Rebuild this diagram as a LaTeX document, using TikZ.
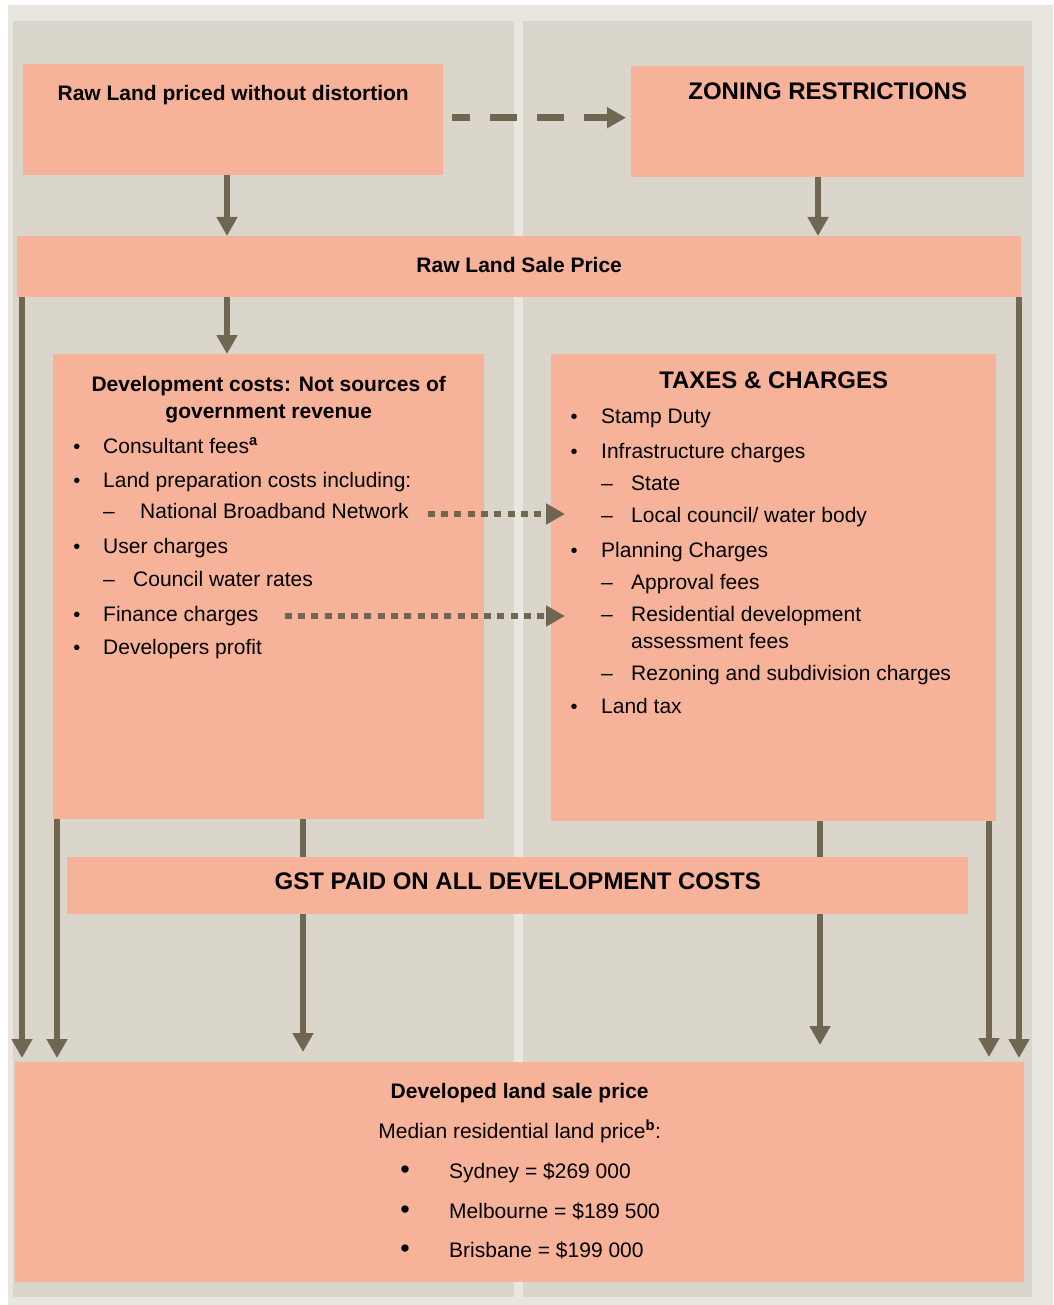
\documentclass[tikz,border=0pt]{standalone}
\usepackage{fontspec}
\setmainfont{Liberation Sans}
\usetikzlibrary{arrows.meta,calc}
\definecolor{framegray}{HTML}{E9E6DF}
\definecolor{panelgray}{HTML}{DAD6CB}
\definecolor{salmon}{HTML}{F7B29A}
\definecolor{olive}{HTML}{6F6751}

\begin{document}
\begin{tikzpicture}[x=1pt,y=-1pt,>={Triangle[width=20pt,length=19pt]},
box/.style={fill=salmon,inner sep=0pt,anchor=north west},flow/.style={->,draw=olive,line width=6.5pt},dashflow/.style={flow,dash pattern=on 27pt off 20pt,dash phase=9pt},dotflow/.style={->,draw=olive,line width=6pt,dash pattern=on 7pt off 6.3pt},head/.style={anchor=base,font=\fontsize{21}{25}\selectfont\bfseries},bighead/.style={anchor=base,font=\fontsize{24}{29}\selectfont\bfseries},item/.style={anchor=base west,inner sep=0pt,font=\fontsize{21}{25}\selectfont},dot/.style={anchor=base,inner sep=0pt,font=\fontsize{20}{24}\selectfont},bigdot/.style={anchor=base,inner sep=0pt,font=\fontsize{27}{30}\selectfont}]
\useasboundingbox (0,0) rectangle (1053,1305);
% frame and the two panels
\fill[white] (0,0) rectangle (1053,1305);
\fill[framegray] (8,5) rectangle (1053,1305);
\fill[panelgray] (13,21) rectangle (514,1297);
\fill[panelgray] (523,21) rectangle (1032,1297);
% boxes
\node[box,minimum width=420pt,minimum height=111pt] (rawland) at (23,64) {};
\node[box,minimum width=393pt,minimum height=111pt] (zoning) at (631,66) {};
\node[box,minimum width=1004pt,minimum height=61pt] (saleprice) at (17,236) {};
\node[box,minimum width=431pt,minimum height=465pt] (devcost) at (53,354) {};
\node[box,minimum width=445pt,minimum height=467pt] (taxes) at (551,354) {};
\node[box,minimum width=1009pt,minimum height=220pt] (developed) at (15,1062) {};
% headings
\node[head] (rawland-t) at ($(rawland.north)+(0,37)$) {Raw Land priced without distortion};
\node[bighead] (zoning-t) at ($(zoning.north)+(0,34)$) {ZONING RESTRICTIONS};
\node[head] (saleprice-t) at ($(saleprice.north)+(0,37)$) {Raw Land Sale Price};
\node[head] (devcost-t1) at ($(devcost.north)+(0,37)$) {Development costs: Not sources of};
\node[head] (devcost-t2) at ($(devcost.north)+(0,64)$) {government revenue};
\node[bighead] (taxes-t) at ($(taxes.north)+(0,34)$) {TAXES \& CHARGES};
\node[head] (developed-t) at ($(developed.north)+(0,36)$) {Developed land sale price};
\node[item,anchor=base] (median) at ($(developed.north)+(0,76)$) {Median residential land price\textsuperscript{\bfseries b}:};
% development costs list
\foreach \n/\y/\t in {consult/453/{Consultant fees\textsuperscript{\bfseries a}},landprep/487/{Land preparation costs including:},user/553/{User charges},finance/621/{Finance charges},profit/654/{Developers profit}}{
\node[dot] (\n-b) at (77,\y) {•};
\node[item] (\n) at (103,\y) {\t};}
\foreach \n/\x/\y/\t in {nbn/140/518/{National Broadband Network},water/133/586/{Council water rates}}{
\node[item] (\n-d) at (103,\y) {–};
\node[item] (\n) at (\x,\y) {\t};}
% taxes list
\foreach \n/\y/\t in {stamp/423/{Stamp Duty},infra/458/{Infrastructure charges},planning/557/{Planning Charges},landtax/713/{Land tax}}{
\node[dot] (\n-b) at (574,\y) {•};
\node[item] (\n) at (601,\y) {\t};}
\foreach \n/\y/\t in {state/490/{State},local/522/{Local council/ water body},approval/589/{Approval fees},resid/621/{Residential development},rezoning/680/{Rezoning and subdivision charges}}{
\node[item] (\n-d) at (601,\y) {–};
\node[item] (\n) at (631,\y) {\t};}
\node[item] (resid2) at (631,648) {assessment fees};
% median prices
\foreach \n/\y/\t in {sydney/1178/{Sydney = \$269 000},melbourne/1218/{Melbourne = \$189 500},brisbane/1257/{Brisbane = \$199 000}}{
\node[bigdot] (\n-b) at (405,\y) {•};
\node[item] (\n) at (449,\y) {\t};}
% flows
\draw[dashflow,shorten <=9pt,shorten >=5pt] ([yshift=2pt]rawland.east) -- ([yshift=2pt]rawland.east -| zoning.west);
\draw[flow] (rawland.south -| 227,0) -- (saleprice.north -| 227,0);
\draw[flow] (zoning.south -| 818,0) -- (saleprice.north -| 818,0);
\draw[flow] (saleprice.south -| 227,0) -- (devcost.north -| 227,0);
\draw[flow,shorten >=4pt] (saleprice.south -| 22,0) -- (developed.north -| 22,0);
\draw[flow,shorten >=4pt] (saleprice.south -| 1019,0) -- (developed.north -| 1019,0);
\draw[flow,shorten >=4pt] (devcost.south -| 57,0) -- (developed.north -| 57,0);
\draw[flow,shorten >=10pt] (devcost.south -| 303,0) -- (developed.north -| 303,0);
\draw[flow,shorten >=17pt] (taxes.south -| 820,0) -- (developed.north -| 820,0);
\draw[flow,shorten >=5pt] (taxes.south -| 989,0) -- (developed.north -| 989,0);
% GST bar over the flows
\node[box,minimum width=901pt,minimum height=57pt] (gst) at (67,857) {};
\node[bighead] (gst-t) at ($(gst.north)+(0,32)$) {GST PAID ON ALL DEVELOPMENT COSTS};
% dotted links
\draw[dotflow] ([xshift=19pt,yshift=4pt]nbn.base east) -- ([xshift=14pt,yshift=4pt]nbn.base east -| taxes.west);
\draw[dotflow] ([xshift=26pt,yshift=5pt]finance.base east) -- ([xshift=14pt,yshift=5pt]finance.base east -| taxes.west);
\end{tikzpicture}
\end{document}
